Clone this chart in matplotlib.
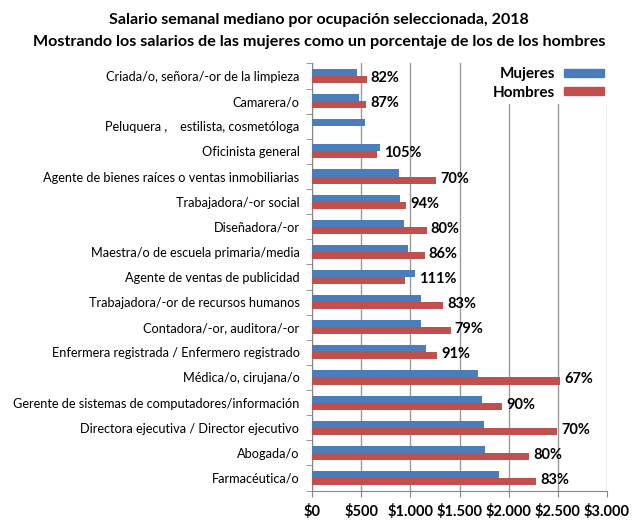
import matplotlib.pyplot as plt
from matplotlib.patches import Patch
import numpy as np

plt.rcParams['font.family'] = ['Lato', 'DejaVu Sans']

ocupaciones = [
    "Criada/o, señora/-or de la limpieza",
    "Camarera/o",
    "Peluquera ,    estilista, cosmetóloga",
    "Oficinista general",
    "Agente de bienes raíces o ventas inmobiliarias",
    "Trabajadora/-or social",
    "Diseñadora/-or",
    "Maestra/o de escuela primaria/media",
    "Agente de ventas de publicidad",
    "Trabajadora/-or de recursos humanos",
    "Contadora/-or, auditora/-or",
    "Enfermera registrada / Enfermero registrado",
    "Médica/o, cirujana/o",
    "Gerente de sistemas de computadores/información",
    "Directora ejecutiva / Director ejecutivo",
    "Abogada/o",
    "Farmacéutica/o",
]
mujeres = [455, 475, 540, 695, 880, 890, 935, 980, 1045, 1110, 1110, 1155,
           1685, 1730, 1745, 1760, 1900]
hombres = [555, 547, 0, 665, 1260, 960, 1165, 1145, 950, 1330, 1410, 1270,
           2520, 1930, 2495, 2210, 2280]
porcentajes = ["82%", "87%", "", "105%", "70%", "94%", "80%", "86%", "111%",
               "83%", "79%", "91%", "67%", "90%", "70%", "80%", "83%"]
ticks_x = [0, 500, 1000, 1500, 2000, 2500, 3000]
etiquetas_x = ["$0", "$500", "$1.000", "$1.500", "$2.000", "$2.500", "$3.000"]

azul = "#4a7ebb"
rojo = "#c0504d"

fig = plt.figure(figsize=(6.38, 5.29), dpi=100)
ax = fig.add_axes([312 / 638, 1 - 490.5 / 529, 295 / 638, 427 / 529])

y = np.arange(len(ocupaciones))
h = 0.28
ax.barh(y - h / 2, mujeres, h, color=azul, zorder=3)
ax.barh(y + h / 2, hombres, h, color=rojo, zorder=3)

for i, txt in enumerate(porcentajes):
    if txt:
        ax.annotate(txt, (max(mujeres[i], hombres[i]), y[i] + 0.08),
                    xytext=(3, 0), textcoords="offset points",
                    ha="left", va="center", fontsize=10.5, fontweight="bold")

ax.set_xlim(0, 3000)
ax.set_ylim(len(ocupaciones) - 0.5, -0.5)
ax.set_xticks(ticks_x)
ax.set_xticklabels(etiquetas_x, fontsize=10.5, fontweight="bold")
ax.set_yticks(y)
ax.set_yticklabels(ocupaciones, fontsize=9.2)
ax.set_yticks(np.arange(len(ocupaciones) + 1) - 0.5, minor=True)
ax.tick_params(axis="y", which="major", length=0, pad=9)
ax.tick_params(axis="y", which="minor", length=4, color="#868686")
ax.tick_params(axis="x", length=4, color="#868686", pad=6)

ax.grid(axis="x", color="#9a9a9a", lw=1, zorder=0)
for s in ["top", "right"]:
    ax.spines[s].set_visible(False)
for s in ["left", "bottom"]:
    ax.spines[s].set_color("#868686")

handles = [Patch(color=azul, label="Mujeres"), Patch(color=rojo, label="Hombres")]
leg = fig.legend(handles=handles, loc="upper right",
                 bbox_to_anchor=(616 / 638, 1 - 55 / 529),
                 markerfirst=False, frameon=True, facecolor="white", edgecolor="none",
                 framealpha=1, fancybox=False, handlelength=2.6, handleheight=0.45,
                 handletextpad=0.6, labelspacing=0.3, borderpad=0.3,
                 prop={"size": 11, "weight": "bold"})
for t in leg.get_texts():
    t.set_ha("left")

fig.text(0.5, 1 - 20 / 529, "Salario semanal mediano por ocupación seleccionada, 2018",
         ha="center", va="center", fontsize=11.5, fontweight="bold")
fig.text(0.5, 1 - 42 / 529,
         "Mostrando los salarios de las mujeres como un porcentaje de los de los hombres",
         ha="center", va="center", fontsize=11.6, fontweight="bold")

fig.savefig("out.png", dpi=100)
